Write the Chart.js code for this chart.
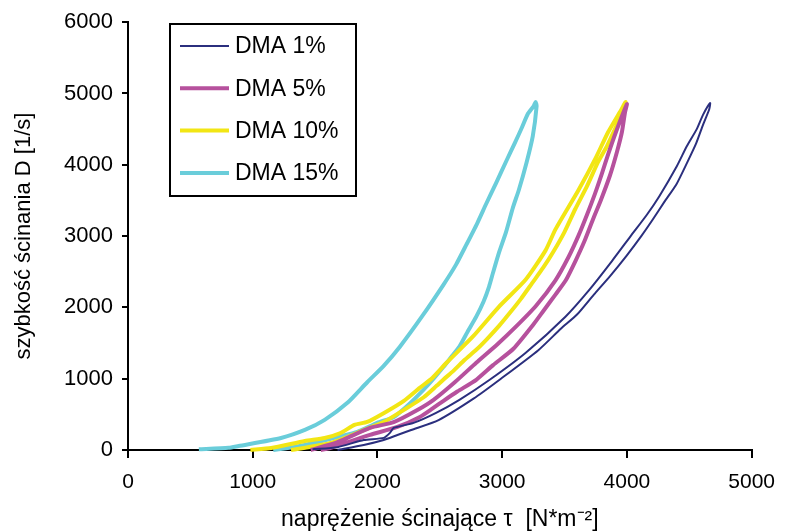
<!DOCTYPE html>
<html>
<head>
<meta charset="utf-8">
<script src="https://cdn.jsdelivr.net/npm/chart.js@4.4.1/dist/chart.umd.min.js"></script>
<style>
  html, body { margin: 0; padding: 0; background: #fff; }
  #wrap { width: 787px; height: 532px; }
</style>
</head>
<body>
<div id="wrap"><canvas id="chart" width="787" height="532"></canvas></div>
<script>
// series names and colours
const seriesNames = ['DMA 1%', 'DMA 5%', 'DMA 10%', 'DMA 15%'];
const seriesColors = ['#2b2f7e', '#b6519d', '#f2e614', '#6acdda'];
const seriesWidths = [2, 4, 4, 4];

// axis ticks
const xTicks = [0, 1000, 2000, 3000, 4000, 5000];
const yTicks = [0, 1000, 2000, 3000, 4000, 5000, 6000];

// DMA 1% : shear stress tau [N/m2] and shear rate D [1/s], up then down
const dma1Stress = [1480, 1680, 1890, 2050, 2100, 2130, 2290, 2470, 2657, 2900, 3189, 3507, 3700, 3880, 4030, 4160, 4260, 4400, 4480, 4560, 4610, 4667,
  4660, 4610, 4555, 4480, 4395, 4300, 4210, 4115, 3995, 3865, 3735, 3600, 3470, 3290, 2990, 2770, 2490, 2270, 2160, 2050, 1890, 1680];
const dma1Rate = [10, 40, 140, 170, 240, 310, 380, 520, 703, 985, 1364, 1870, 2250, 2650, 3000, 3300, 3560, 3980, 4260, 4500, 4700, 4866,
  4780, 4560, 4300, 4020, 3720, 3480, 3240, 3000, 2720, 2440, 2180, 1900, 1700, 1400, 1000, 720, 420, 280, 210, 140, 70, 0];

// DMA 5%
const dma5Stress = [1465, 1680, 1940, 2130, 2320, 2450, 2620, 2792, 2960, 3110, 3270, 3427, 3530, 3610, 3680, 3745, 3800, 3850, 3910, 4000,
  3985, 3960, 3920, 3864, 3790, 3729, 3660, 3590, 3510, 3427, 3330, 3250, 3090, 2927, 2792, 2640, 2530, 2440, 2340, 2160, 1940, 1620, 1545];
const dma5Rate = [0, 110, 310, 390, 560, 703, 950, 1224, 1480, 1730, 2020, 2380, 2700, 3000, 3300, 3600, 3880, 4150, 4450, 4850,
  4740, 4460, 4180, 3850, 3500, 3240, 2930, 2660, 2380, 2180, 1950, 1760, 1420, 1190, 985, 820, 690, 580, 464, 323, 211, 28, 0];

// DMA 10%
const dma10Stress = [981, 1148, 1418, 1577, 1704, 1815, 1918, 2053, 2212, 2339, 2440, 2554, 2770, 2975, 3189, 3348, 3427, 3610, 3745, 3850, 3957, 3990,
  3967, 3904, 3840, 3769, 3680, 3586, 3500, 3410, 3330, 3240, 3150, 3060, 2975, 2880, 2792, 2700, 2609, 2530, 2474, 2371, 2212, 2053, 1894, 1624, 1307];
const dma10Rate = [0, 28, 127, 169, 239, 352, 394, 520, 690, 872, 1010, 1224, 1600, 2011, 2391, 2800, 3094, 3640, 4079, 4460, 4780, 4880,
  4740, 4500, 4262, 4040, 3700, 3380, 3060, 2780, 2560, 2340, 2120, 1920, 1740, 1560, 1406, 1266, 1110, 990, 900, 740, 563, 394, 281, 98, 0];

// DMA 15%
const dma15Stress = [568, 806, 886, 1227, 1418, 1577, 1759, 1918, 2050, 2180, 2360, 2530, 2630, 2713, 2800, 2871, 2950, 3035, 3100, 3160, 3205, 3253, 3268,
  3276, 3245, 3195, 3134, 3086, 3030, 2975, 2927, 2895, 2850, 2792, 2720, 2657, 2590, 2530, 2420, 2300, 2220, 2133, 1998, 1839, 1680, 1521, 1338, 1164];
const dma15Rate = [10, 30, 56, 169, 281, 422, 661, 950, 1180, 1449, 1880, 2320, 2600, 2880, 3180, 3450, 3740, 4060, 4300, 4530, 4712, 4824, 4880,
  4824, 4400, 4030, 3650, 3400, 3052, 2771, 2489, 2293, 2080, 1870, 1650, 1449, 1300, 1167, 940, 720, 590, 464, 380, 253, 183, 113, 42, 0];

const stressSets = [dma1Stress, dma5Stress, dma10Stress, dma15Stress];
const rateSets = [dma1Rate, dma5Rate, dma10Rate, dma15Rate];

const font = 'Liberation Sans, Arial, sans-serif';

// legend box drawn inside the plot, like the original
const boxLegend = {
  id: 'boxLegend',
  afterDraw(chart) {
    const ctx = chart.ctx;
    ctx.save();
    ctx.strokeStyle = '#000';
    ctx.lineWidth = 2;
    ctx.strokeRect(170, 24, 186, 172);
    ctx.font = '23px ' + font;
    ctx.textBaseline = 'middle';
    ctx.fillStyle = '#000';
    chart.data.datasets.forEach((ds, i) => {
      const y = 46 + i * 42.3;
      ctx.beginPath();
      ctx.strokeStyle = ds.borderColor;
      ctx.lineWidth = ds.borderWidth;
      ctx.moveTo(180, y);
      ctx.lineTo(229, y);
      ctx.stroke();
      ctx.fillText(ds.label, 235, y + 1);
    });
    ctx.restore();
  }
};

const datasets = seriesNames.map((name, i) => ({
  label: name,
  data: stressSets[i].map((x, j) => ({ x: x, y: rateSets[i][j] })),
  borderColor: seriesColors[i],
  borderWidth: seriesWidths[i],
  showLine: true,
  pointRadius: 0,
  tension: 0.2,
  fill: false,
  clip: 6
}));

new Chart(document.getElementById('chart').getContext('2d'), {
  type: 'scatter',
  data: { datasets: datasets },
  options: {
    responsive: false,
    animation: false,
    devicePixelRatio: 1,
    layout: { padding: { top: 22, right: 29, left: 0, bottom: 0 } },
    plugins: {
      legend: { display: false },
      tooltip: { enabled: false }
    },
    scales: {
      x: {
        type: 'linear',
        min: 0,
        max: 5000,
        afterFit: (s) => { s.height = 82; },
        afterBuildTicks: (s) => { s.ticks = xTicks.map(v => ({ value: v })); },
        ticks: { color: '#000', font: { family: font, size: 21 }, padding: 12, maxRotation: 0, callback: (v) => String(v) },
        grid: { drawOnChartArea: false, drawTicks: true, tickLength: 8, color: '#000', lineWidth: 2 },
        border: { color: '#000', width: 2 },
        title: {
          display: true,
          text: 'naprężenie ścinające τ  [N*m⁻²]',
          color: '#000',
          font: { family: font, size: 23, lineHeight: 1 },
          padding: { top: 0, bottom: 1 }
        }
      },
      y: {
        type: 'linear',
        min: 0,
        max: 6000,
        afterFit: (s) => { s.width = 128; },
        afterBuildTicks: (s) => { s.ticks = yTicks.map(v => ({ value: v })); },
        ticks: { color: '#000', font: { family: font, size: 22 }, padding: 9, callback: (v) => String(v) },
        grid: { drawOnChartArea: false, drawTicks: true, tickLength: 6, color: '#000', lineWidth: 2 },
        border: { color: '#000', width: 2 },
        title: {
          display: true,
          text: 'szybkość ścinania D [1/s]',
          color: '#000',
          font: { family: font, size: 22, lineHeight: 1 },
          padding: { top: 13, bottom: 0 }
        }
      }
    }
  },
  plugins: [boxLegend]
});
</script>
</body>
</html>
